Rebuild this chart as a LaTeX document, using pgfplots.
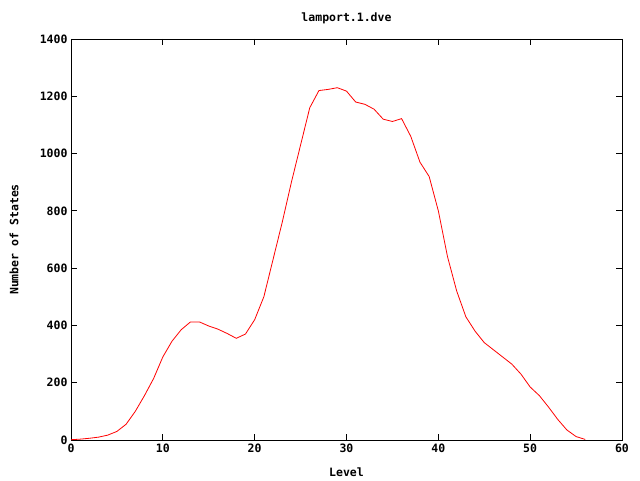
\documentclass[border=0pt]{standalone}
\usepackage{pgfplots}
\pgfplotsset{compat=1.18}
\usepackage{fontspec}
\setmainfont{DejaVu Sans Mono}
\begin{document}
\begin{tikzpicture}[x=1pt,y=1pt]
\path[use as bounding box] (0,0) rectangle (640,480);
\begin{axis}[
  at={(71pt,40pt)}, anchor=south west,
  scale only axis, width=551pt, height=401pt,
  xmin=0, xmax=60, ymin=0, ymax=1400,
  xtick={0,10,...,60}, ytick={0,200,...,1400},
  tick align=inside, major tick length=6pt,
  axis line style={line width=0.9pt},
  every tick/.style={black, line width=0.9pt},
  /pgf/number format/assume math mode=true,
  /pgf/number format/1000 sep={},
  tick label style={font=\fontsize{11.5}{12}\selectfont\bfseries},
  title style={font=\fontsize{11.5}{12}\selectfont\bfseries, yshift=6pt},
  title={lamport.1.dve},
  xlabel={Level}, ylabel={Number of States},
  every axis x label/.style={at={(axis description cs:0.5,0)}, yshift=-32pt, anchor=center, font=\fontsize{11.5}{12}\selectfont\bfseries},
  every axis y label/.style={at={(axis description cs:0,0.5)}, xshift=-57pt, rotate=90, anchor=center, font=\fontsize{11.5}{12}\selectfont\bfseries},
]
\addplot[color=red, line width=0.8pt, mark=none] coordinates {
(0,1) (1,3) (2,6) (3,10) (4,17) (5,30) (6,55) (7,100) (8,155) (9,215)
(10,290) (11,345) (12,385) (13,412) (14,412) (15,398) (16,387) (17,372) (18,355) (19,370)
(20,420) (21,500) (22,630) (23,760) (24,900) (25,1030) (26,1160) (27,1220) (28,1224) (29,1230)
(30,1218) (31,1180) (32,1172) (33,1155) (34,1120) (35,1112) (36,1122) (37,1060) (38,970) (39,920)
(40,800) (41,640) (42,520) (43,430) (44,380) (45,340) (46,315) (47,290) (48,265) (49,230)
(50,185) (51,155) (52,115) (53,72) (54,35) (55,12) (56,2)
};
\end{axis}
\end{tikzpicture}
\end{document}
